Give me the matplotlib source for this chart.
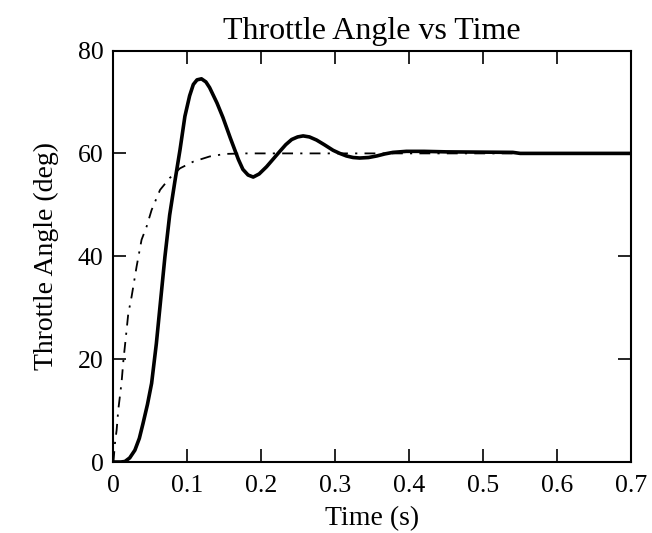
import matplotlib
matplotlib.use("Agg")
import matplotlib.pyplot as plt

# Data
t_solid = [0, 0.010, 0.0155, 0.022, 0.029, 0.035, 0.040, 0.046, 0.0516, 0.058, 0.0628, 0.0696,
           0.076, 0.083, 0.090, 0.0966, 0.103, 0.108, 0.113, 0.119, 0.125, 0.130,
           0.140, 0.148, 0.158, 0.169, 0.175, 0.182, 0.189, 0.197, 0.207, 0.216,
           0.225, 0.233, 0.241, 0.249, 0.2565, 0.265, 0.2746, 0.285, 0.297, 0.306,
           0.315, 0.324, 0.333, 0.345, 0.356, 0.367, 0.378, 0.396, 0.42, 0.45,
           0.54, 0.55, 0.70]
v_solid = [0, 0, 0.1, 0.8, 2.3, 4.6, 7.5, 11.2, 15.3, 23.0, 30.0, 39.9,
           48.0, 54.5, 60.7, 67.2, 71.2, 73.4, 74.3, 74.5, 73.9, 72.8,
           69.8, 67.0, 63.0, 58.8, 56.9, 55.8, 55.4, 56.0, 57.4, 58.9,
           60.4, 61.7, 62.7, 63.2, 63.4, 63.2, 62.6, 61.7, 60.6, 60.0,
           59.5, 59.2, 59.1, 59.2, 59.5, 59.9, 60.2, 60.4, 60.4, 60.3,
           60.2, 60.0, 60.0]

t_dash = [0, 0.002, 0.0043, 0.0065, 0.011, 0.0133, 0.0178, 0.020, 0.0246, 0.0313,
          0.038, 0.0449, 0.0516, 0.063, 0.076, 0.090, 0.108, 0.130, 0.151, 0.18, 0.70]
v_dash = [0, 3.6, 6.2, 10.1, 15.5, 19.5, 25.7, 28.8, 32.2, 38.0,
          43.2, 45.8, 49.0, 52.9, 55.2, 57.1, 58.4, 59.4, 59.9, 60.0, 60.0]

x_ticks = [0, 0.1, 0.2, 0.3, 0.4, 0.5, 0.6, 0.7]
x_ticklabels = ["0", "0.1", "0.2", "0.3", "0.4", "0.5", "0.6", "0.7"]
y_ticks = [0, 20, 40, 60, 80]

plt.rcParams['font.family'] = ['Liberation Serif', 'DejaVu Serif']

fig = plt.figure(figsize=(6.52, 5.33), dpi=100)
ax = fig.add_axes([0.174, 0.1332, 0.794, 0.772])

ax.plot(t_solid, v_solid, color='black', lw=2.6, solid_joinstyle='round')
ax.plot(t_dash, v_dash, color='black', lw=1.3, linestyle=(0, (6, 4, 1.2, 4)))

ax.set_xlim(0, 0.7)
ax.set_ylim(0, 80)
ax.set_xticks(x_ticks)
ax.set_xticklabels(x_ticklabels)
ax.set_yticks(y_ticks)
ax.tick_params(direction='in', length=9.4, width=1.2, top=True, right=True,
               labelsize=18.5, colors='black')
ax.tick_params(axis='x', pad=9)
ax.tick_params(axis='y', pad=7)
for s in ax.spines.values():
    s.set_linewidth(1.5)

ax.set_title("Throttle Angle vs Time", fontsize=23, pad=8)
ax.set_xlabel("Time (s)", fontsize=20, labelpad=7)
ax.set_ylabel("Throttle Angle (deg)", fontsize=20, labelpad=14)

fig.savefig("out.png", dpi=100)
